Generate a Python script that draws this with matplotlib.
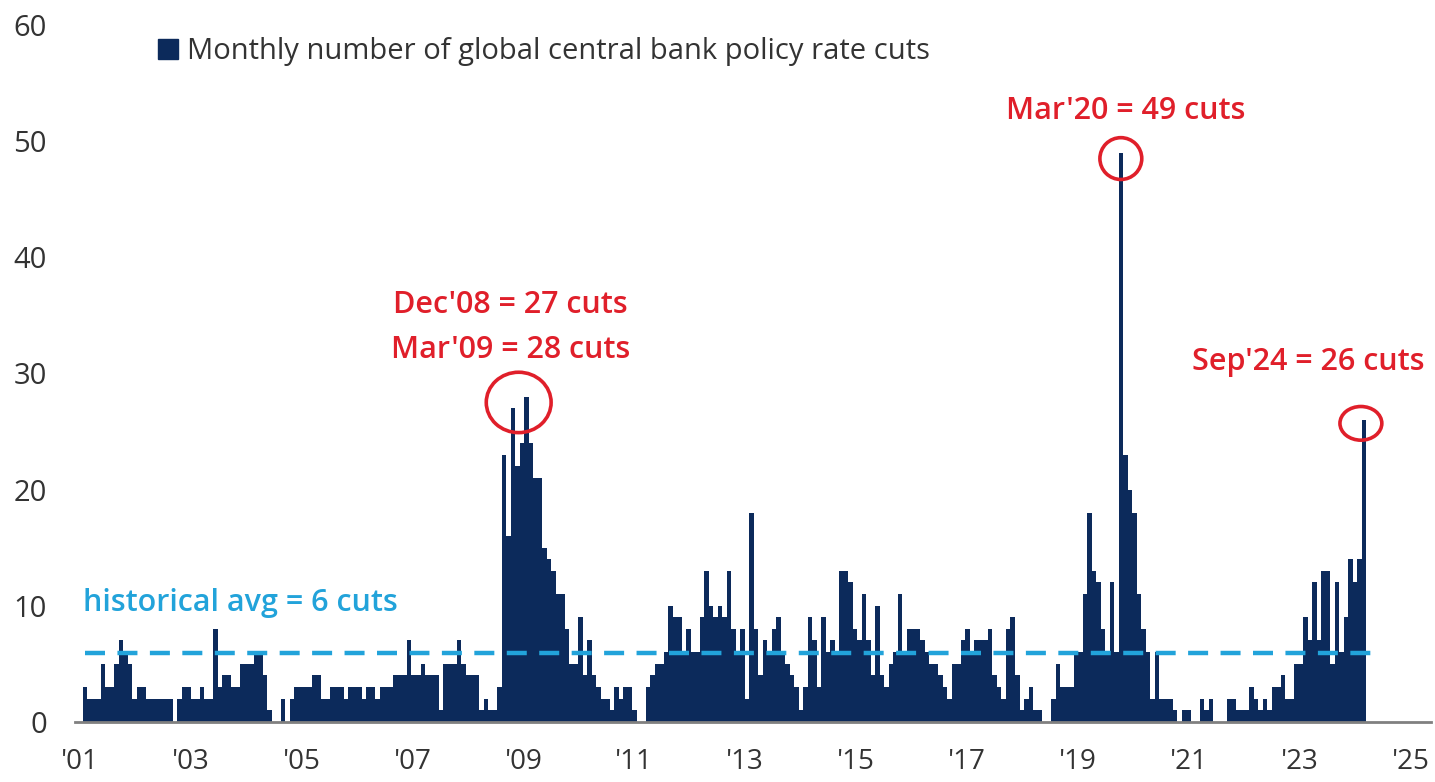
import matplotlib.pyplot as plt
import numpy as np
from matplotlib.patches import Ellipse, Patch

# monthly count of global central bank policy rate cuts, Jan 2001 .. Sep 2024
monthly_cuts = [
    3, 2, 2, 2, 5, 3, 3, 5, 7, 6, 5, 2,          # 2001
    3, 3, 2, 2, 2, 2, 2, 2, 0, 2, 3, 3,          # 2002
    2, 2, 3, 2, 2, 8, 3, 4, 4, 3, 3, 5,          # 2003
    5, 5, 6, 6, 4, 1, 0, 0, 2, 0, 2, 3,          # 2004
    3, 3, 3, 4, 4, 2, 2, 3, 3, 3, 2, 3,          # 2005
    3, 3, 2, 3, 3, 2, 3, 3, 3, 4, 4, 4,          # 2006
    7, 4, 4, 5, 4, 4, 4, 1, 5, 5, 5, 7,          # 2007
    5, 4, 4, 4, 1, 2, 1, 1, 3, 23, 16, 27,       # 2008
    22, 24, 28, 24, 21, 21, 15, 14, 13, 11, 11, 8,  # 2009
    5, 5, 9, 4, 7, 4, 3, 2, 2, 1, 3, 2,          # 2010
    3, 3, 1, 0, 0, 3, 4, 5, 5, 6, 10, 9,         # 2011
    9, 6, 8, 6, 6, 9, 13, 10, 9, 10, 9, 13,      # 2012
    8, 6, 8, 2, 18, 8, 4, 7, 6, 8, 9, 6,         # 2013
    5, 4, 3, 1, 3, 9, 7, 3, 9, 6, 7, 6,          # 2014
    13, 13, 12, 8, 7, 11, 7, 4, 10, 4, 3, 5,     # 2015
    6, 11, 6, 8, 8, 8, 7, 6, 5, 5, 4, 3,         # 2016
    2, 5, 5, 7, 8, 6, 7, 7, 7, 8, 4, 3,          # 2017
    2, 8, 9, 4, 1, 2, 3, 1, 1, 0, 0, 2,          # 2018
    5, 3, 3, 3, 6, 6, 11, 18, 13, 12, 8, 6,      # 2019
    12, 6, 49, 23, 20, 18, 11, 8, 6, 2, 6, 2,    # 2020
    2, 2, 1, 0, 1, 1, 0, 0, 2, 1, 2, 0,          # 2021
    0, 0, 2, 2, 1, 1, 1, 3, 2, 1, 2, 1,          # 2022
    3, 3, 4, 2, 2, 5, 5, 9, 7, 12, 7, 13,        # 2023
    13, 5, 12, 6, 9, 14, 12, 14, 26,             # 2024
]
year_labels = ["'01", "'03", "'05", "'07", "'09", "'11", "'13",
               "'15", "'17", "'19", "'21", "'23", "'25"]
y_ticks = [0, 10, 20, 30, 40, 50, 60]

# callouts: month index (0 = Jan 2001) of each highlighted peak
crisis_peaks = [95, 98]      # Dec'08, Mar'09
covid_peak = 230             # Mar'20
recent_peak = 284            # Sep'24

navy = "#0c2a5b"
red = "#e01f2a"
blue = "#22a3da"
font = "Open Sans"

cuts = np.array(monthly_cuts)
months = np.arange(len(cuts))
hist_avg = cuts.mean()

fig = plt.figure(figsize=(14.35, 7.82), dpi=100)
ax = fig.add_axes([0.052, 0.077, 0.945, 0.891])

ax.bar(months, cuts, width=1.0, color=navy, linewidth=0)
ax.plot([0, len(cuts) + 2], [hist_avg, hist_avg], color=blue, lw=3.2,
        dashes=(4.5, 2.8))

ax.set_xlim(-2.3, 298.8)
ax.set_ylim(0, 60)
ax.set_xticks(np.linspace(-1.2, 294.4, len(year_labels)))
ax.set_xticklabels(year_labels)
ax.set_yticks(y_ticks)
ax.tick_params(axis="both", length=0, labelsize=21, labelcolor="#333333")
ax.tick_params(axis="y", pad=20)
ax.tick_params(axis="x", pad=19, labelsize=20)
for lab in ax.get_xticklabels() + ax.get_yticklabels():
    lab.set_fontfamily(font)

for side in ["left", "right", "top"]:
    ax.spines[side].set_visible(False)
ax.spines["bottom"].set_color("#808080")
ax.spines["bottom"].set_linewidth(2)

# red circles round the highlighted peaks
def ring(center_x, center_y, w, h):
    ax.add_patch(Ellipse((center_x, center_y), w, h, fill=False,
                         edgecolor=red, lw=2.6, zorder=5))

ring(np.mean(crisis_peaks) - 0.2, cuts[crisis_peaks].max() - 0.5, 14.4, 5.2)
ring(covid_peak, cuts[covid_peak] - 0.5, 9.3, 3.6)
ring(recent_peak - 0.7, cuts[recent_peak] - 0.3, 9.3, 2.9)

label_kw = dict(color=red, fontsize=22, fontfamily=font, fontweight="semibold",
                ha="center", va="center")
ax.text(94.4, 35.9, f"Dec'08 = {cuts[95]} cuts", **label_kw)
ax.text(94.4, 32.0, f"Mar'09 = {cuts[98]} cuts", **label_kw)
ax.text(231, 52.6, f"Mar'20 = {cuts[covid_peak]} cuts", **label_kw)
ax.text(271.7, 31.0, f"Sep'24 = {cuts[recent_peak]} cuts", **label_kw)

ax.text(-0.5, 10.2, f"historical avg = {round(hist_avg)} cuts", color=blue,
        fontsize=22, fontfamily=font, fontweight="semibold", ha="left",
        va="center")

ax.legend(handles=[Patch(color=navy)],
          labels=["Monthly number of global central bank policy rate cuts"],
          loc="upper left", bbox_to_anchor=(0.042, 1.02), frameon=False,
          handlelength=0.7, handleheight=0.7, handletextpad=0.3,
          prop={"family": font, "size": 21})
for t in ax.get_legend().get_texts():
    t.set_color("#333333")

fig.savefig("out.png", dpi=100)
